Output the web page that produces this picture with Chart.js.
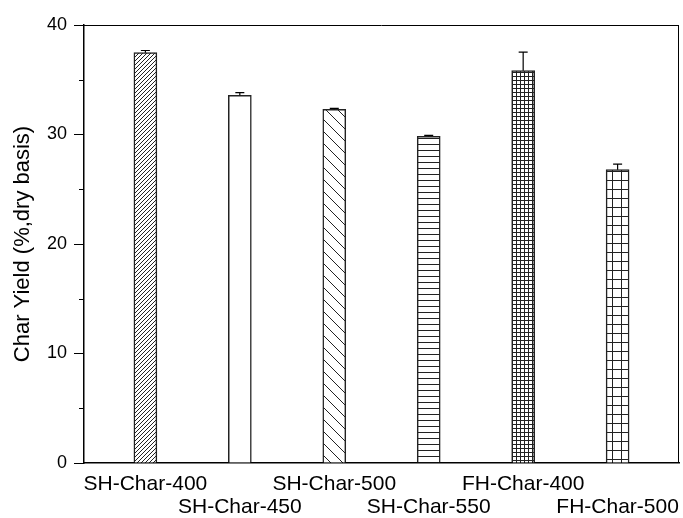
<!DOCTYPE html>
<html>
<head>
<meta charset="utf-8">
<script src="https://cdn.jsdelivr.net/npm/chart.js@4/dist/chart.umd.min.js"></script>
<style>
  body { margin: 0; background: #fff; }
  canvas { display: block; }
</style>
</head>
<body>
<canvas id="chart" width="683" height="518"></canvas>
<script>
// data
const categories = ['SH-Char-400', 'SH-Char-450', 'SH-Char-500', 'SH-Char-550', 'FH-Char-400', 'FH-Char-500'];
const charYield = [37.47, 33.58, 32.3, 29.84, 35.83, 26.79];
const yieldError = [0.2, 0.25, 0.08, 0.08, 1.7, 0.5];
const yTicks = [0, 10, 20, 30, 40];

const FONT = "'Liberation Sans', Arial, sans-serif";

// hatch fills, one per bar
function makePattern(size, draw) {
    const c = document.createElement('canvas');
    c.width = size;
    c.height = size;
    const g = c.getContext('2d');
    g.fillStyle = '#fff';
    g.fillRect(0, 0, size, size);
    g.strokeStyle = '#222';
    g.lineWidth = 1;
    draw(g, size);
    return g.createPattern(c, 'repeat');
}

const fills = [
    makePattern(4, (g, s) => { // dense "/"
        g.beginPath();
        g.moveTo(-1, s + 1); g.lineTo(s + 1, -1);
        g.moveTo(-1, 1); g.lineTo(1, -1);
        g.moveTo(s - 1, s + 1); g.lineTo(s + 1, s - 1);
        g.stroke();
    }),
    '#ffffff',
    makePattern(12, (g, s) => { // sparse "\"
        g.beginPath();
        g.moveTo(-1, -1); g.lineTo(s + 1, s + 1);
        g.stroke();
    }),
    makePattern(6, (g, s) => { // horizontal
        g.beginPath();
        g.moveTo(0, 0.5); g.lineTo(s, 0.5);
        g.stroke();
    }),
    makePattern(4, (g, s) => { // dense grid
        g.beginPath();
        g.moveTo(0, 0.5); g.lineTo(s, 0.5);
        g.moveTo(0.5, 0); g.lineTo(0.5, s);
        g.stroke();
    }),
    makePattern(9, (g, s) => { // open grid
        g.beginPath();
        g.moveTo(0, 0.5); g.lineTo(s, 0.5);
        g.moveTo(0.5, 0); g.lineTo(0.5, s);
        g.stroke();
    })
];

// frame, minor ticks and error bars
const extras = {
    id: 'extras',
    afterDatasetsDraw(chart) {
        const ctx = chart.ctx;
        const x = chart.scales.x, y = chart.scales.y;
        const a = chart.chartArea;
        ctx.save();
        ctx.strokeStyle = '#000';
        ctx.lineWidth = 1;
        ctx.beginPath();
        ctx.moveTo(a.left, a.top + 0.5); ctx.lineTo(a.right, a.top + 0.5);
        ctx.moveTo(a.right - 0.5, a.top); ctx.lineTo(a.right - 0.5, a.bottom);
        ctx.stroke();

        // minor ticks
        ctx.beginPath();
        for (let v = 5; v < 40; v += 10) {
            const py = Math.round(y.getPixelForValue(v)) + 0.5;
            ctx.moveTo(a.left - 5, py); ctx.lineTo(a.left, py);
        }
        ctx.stroke();

        // error bars (upper half only, lower part is hidden by the bar)
        ctx.lineWidth = 1.2;
        categories.forEach((c, i) => {
            const px = x.getPixelForValue(i + 1);
            const top = y.getPixelForValue(charYield[i]);
            const hi = y.getPixelForValue(charYield[i] + yieldError[i]);
            ctx.beginPath();
            ctx.moveTo(px, top); ctx.lineTo(px, hi);
            ctx.moveTo(px - 4.5, hi); ctx.lineTo(px + 4.5, hi);
            ctx.stroke();
        });
        ctx.restore();
    }
};

new Chart(document.getElementById('chart'), {
    type: 'bar',
    data: {
        datasets: [{
            data: charYield.map((v, i) => ({ x: i + 1, y: v })),
            backgroundColor: fills,
            borderColor: '#222',
            borderWidth: 1.5,
            barThickness: 23
        }]
    },
    options: {
        responsive: false,
        animation: false,
        events: [],
        layout: { padding: { top: 25, right: 4, bottom: 0, left: 0 } },
        plugins: {
            legend: { display: false },
            tooltip: { enabled: false }
        },
        scales: {
            x: {
                type: 'linear',
                offset: false,
                min: 0.35,
                max: 6.65,
                afterBuildTicks: s => { s.ticks = categories.map((c, i) => ({ value: i + 1 })); },
                afterFit: s => { s.height = 55; s.paddingLeft = 0; s.paddingRight = 0; },
                grid: { display: false, drawTicks: false, offset: false },
                border: { display: true, color: '#000', width: 1.5 },
                ticks: {
                    autoSkip: false,
                    maxRotation: 0,
                    minRotation: 0,
                    padding: 10,
                    color: '#000',
                    font: { family: FONT, size: 21, lineHeight: '23px' },
                    callback: v => {
                        const label = categories[Math.round(v) - 1];
                        return Math.round(v) % 2 === 0 ? ['', label] : label;
                    }
                }
            },
            y: {
                min: 0,
                max: 40,
                afterFit: s => { s.width = 84; },
                grid: {
                    drawOnChartArea: false,
                    tickLength: 10,
                    tickColor: c => (c.tick && c.tick.value % 10 === 0) ? '#000' : 'rgba(0,0,0,0)'
                },
                border: { display: true, color: '#000', width: 1.5 },
                ticks: {
                    stepSize: 5,
                    padding: 7,
                    color: '#000',
                    font: { family: FONT, size: 18 },
                    callback: v => yTicks.includes(v) ? String(v) : ''
                },
                title: {
                    display: true,
                    text: 'Char Yield (%,dry basis)',
                    color: '#000',
                    font: { family: FONT, size: 22, lineHeight: 1.2 },
                    padding: { top: 10, bottom: 0 }
                }
            }
        }
    },
    plugins: [extras]
});
</script>
</body>
</html>
